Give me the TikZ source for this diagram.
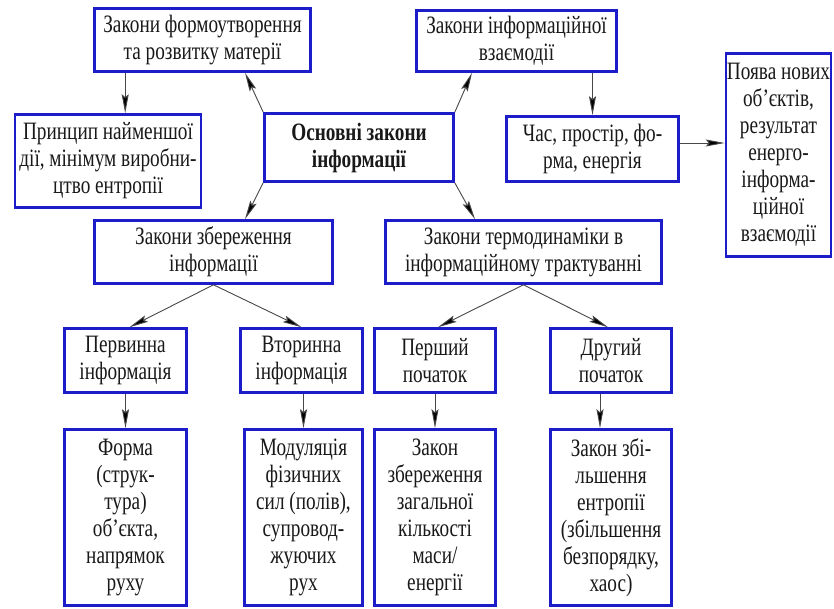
\documentclass[tikz,border=0pt]{standalone}
\usepackage{fontspec}
\setmainfont[FakeStretch=0.77]{Liberation Serif}
\usetikzlibrary{arrows.meta}
\definecolor{boxblue}{RGB}{28,28,200}
\definecolor{ink}{RGB}{25,25,25}
\begin{document}
\begin{tikzpicture}[x=1pt,y=-1pt,
  box/.style={draw=boxblue, line width=2.6pt, fill=white, align=center,
    inner sep=0pt, font=\fontsize{25}{27}\selectfont, text=ink},
  link/.style={draw=ink!80, line width=0.9pt,
    -{Stealth[length=19pt,width=7pt,inset=3pt,fill=black]}},
]
\useasboundingbox (0,0) rectangle (834,609);

% top row
\node[box, minimum width=216, minimum height=63] (A) at (202.5,40)
  {Закони формоутворення\\та розвитку матерії};
\node[box, minimum width=200, minimum height=61] (B) at (516.5,41)
  {Закони інформаційної\\взаємодії};
\node[box, minimum width=186, minimum height=93] (C) at (108,161)
  {Принцип найменшої\\дії, мінімум виробни-\\цтво ентропії};
\node[box, minimum width=189, minimum height=68] (D) at (359,147.5)
  {\bfseries Основні закони\\\bfseries інформації};
\node[box, minimum width=172, minimum height=65] (E) at (592.5,149)
  {Час, простір, фо-\\рма, енергія};
\node[box, minimum width=105, minimum height=203] (F) at (778.5,155)
  {Поява нових\\об'єктів,\\результат\\енерго-\\інформа-\\ційної\\взаємодії};

% second row
\node[box, minimum width=238, minimum height=63] (G) at (213.5,252)
  {Закони збереження\\інформації};
\node[box, minimum width=276, minimum height=63] (H) at (523.5,252)
  {Закони термодинаміки в\\інформаційному трактуванні};

% third row
\node[box, minimum width=122, minimum height=64] (I) at (125.5,360.5)
  {Первинна\\інформація};
\node[box, minimum width=122, minimum height=64] (J) at (301.5,360.5)
  {Вторинна\\інформація};
\node[box, minimum width=121, minimum height=64] (K) at (435,360.5)
  {Перший\\початок};
\node[box, minimum width=121, minimum height=64] (L) at (611,360.5)
  {Другий\\початок};

% bottom row
\node[box, minimum width=122, minimum height=176] (M) at (125.5,517.5)
  {Форма\\(струк-\\тура)\\об'єкта,\\напрямок\\руху};
\node[box, minimum width=118, minimum height=176] (N) at (303.5,517.5)
  {Модуляція\\фізичних\\сил (полів),\\супровод-\\жуючих\\рух};
\node[box, minimum width=121, minimum height=176] (O) at (435,517.5)
  {Закон\\збереження\\загальної\\кількості\\маси/\\енергії};
\node[box, minimum width=121, minimum height=176] (P) at (611,517.5)
  {Закон збі-\\льшення\\ентропії\\(збільшення\\безпорядку,\\хаос)};

% connectors
\draw[link] (D.north west) -- ([xshift=42.5pt]A.south);
\draw[link] (D.north east) -- ([xshift=-44.5pt]B.south);
\draw[link] (D.south west) -- ([xshift=31.5pt]G.north);
\draw[link] (D.south east) -- ([xshift=-48.5pt]H.north);
\draw[link] ([xshift=32pt]A.south west) coordinate (a1) -- (a1 |- C.north);
\draw[link] (B.south -| E.north) -- (E.north);
\draw[link] ([yshift=6pt]E.east) coordinate (e1) -- (e1 -| F.west);
\draw[link] (G.south) -- ([xshift=4pt]I.north);
\draw[link] (G.south) -- (J.north);
\draw[link] (H.south) -- ([xshift=3pt]K.north);
\draw[link] (H.south) -- ([xshift=-3pt]L.north);
\draw[link] (I.south) -- (I.south |- M.north);
\draw[link] (J.south -| N.north) -- (N.north);
\draw[link] (K.south) -- (K.south |- O.north);
\draw[link] ([xshift=-11pt]L.south) coordinate (l1) -- (l1 |- P.north);
\end{tikzpicture}
\end{document}
